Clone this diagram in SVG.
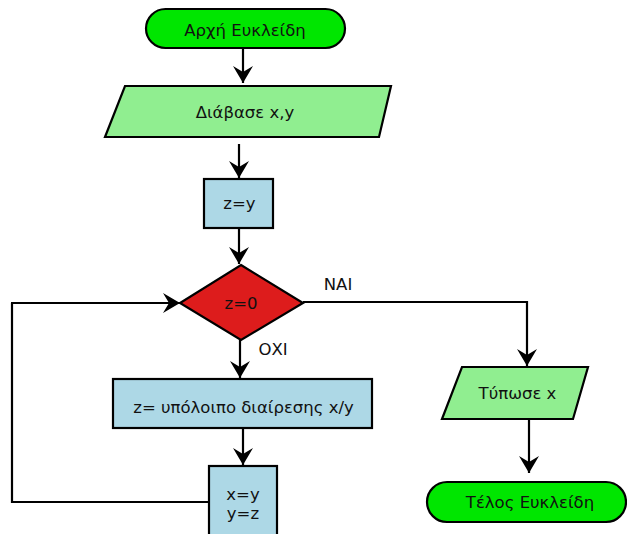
<svg xmlns="http://www.w3.org/2000/svg" width="627" height="534" viewBox="0 0 627 534">
  <defs>
    <marker id="arrow" markerUnits="userSpaceOnUse" markerWidth="20" markerHeight="22" viewBox="-18 -11 20 22" refX="0" refY="0" orient="auto">
      <path d="M0,0 L-17,-10 L-11,0 L-17,10 Z" fill="#000"/>
    </marker>
  </defs>
  <style>
    .shape { stroke: #000; stroke-width: 2.2; }
    .term { fill: #00e600; }
    .io { fill: #90ee90; }
    .proc { fill: #add8e6; }
    .dec { fill: #dd1c1c; }
    .lbl { font-family: "DejaVu Sans", Verdana, sans-serif; font-size: 16.5px; fill: #111; text-anchor: middle; }
    .edge { fill: none; stroke: #000; stroke-width: 2.2; marker-end: url(#arrow); }
    .plain { fill: none; stroke: #000; stroke-width: 2.2; }
  </style>
  <rect width="627" height="534" fill="#fff"/>

  <g id="connectors">
    <line class="edge" x1="243" y1="48" x2="243" y2="83"/>
    <line class="edge" x1="239" y1="144" x2="239" y2="178"/>
    <line class="edge" x1="239" y1="228" x2="239" y2="264"/>
    <polyline class="edge" points="303,302 527,302 527,366"/>
    <line class="edge" x1="240" y1="340" x2="240" y2="378"/>
    <line class="edge" x1="243" y1="428" x2="243" y2="465"/>
    <line class="edge" x1="529" y1="419" x2="529" y2="473"/>
    <polyline class="plain" points="209,502 12,502 12,303"/>
    <line class="edge" x1="11" y1="303" x2="180" y2="303"/>
    <text class="lbl" x="338" y="290">ΝΑΙ</text>
    <text class="lbl" x="273" y="355">ΟΧΙ</text>
  </g>

  <g id="start">
    <rect class="shape term" x="146" y="9" width="199" height="39" rx="19.5"/>
    <text class="lbl" x="245" y="36">Αρχή Ευκλείδη</text>
  </g>

  <g id="read">
    <polygon class="shape io" points="125,86 391,86 379,137 105,137"/>
    <text class="lbl" x="245" y="118">Διάβασε x,y</text>
  </g>

  <g id="init">
    <rect class="shape proc" x="204" y="179" width="69" height="49"/>
    <text class="lbl" x="239.5" y="209">z=y</text>
  </g>

  <g id="test">
    <polygon class="shape dec" points="241,265 303,303 241,340 180,303"/>
    <text class="lbl" x="241" y="309">z=0</text>
  </g>

  <g id="remainder">
    <rect class="shape proc" x="113" y="379" width="259" height="49"/>
    <text class="lbl" x="243.5" y="413">z= υπόλοιπο διαίρεσης x/y</text>
  </g>

  <g id="swap">
    <rect class="shape proc" x="209" y="466" width="68" height="80"/>
    <text class="lbl" x="243" y="500">x=y</text>
    <text class="lbl" x="243" y="519">y=z</text>
  </g>

  <g id="print">
    <polygon class="shape io" points="462,367 588,367 573,419 442,419"/>
    <text class="lbl" x="517.5" y="399">Τύπωσε x</text>
  </g>

  <g id="end">
    <rect class="shape term" x="427" y="482" width="199" height="40" rx="20"/>
    <text class="lbl" x="530" y="508">Τέλος Ευκλείδη</text>
  </g>
</svg>
